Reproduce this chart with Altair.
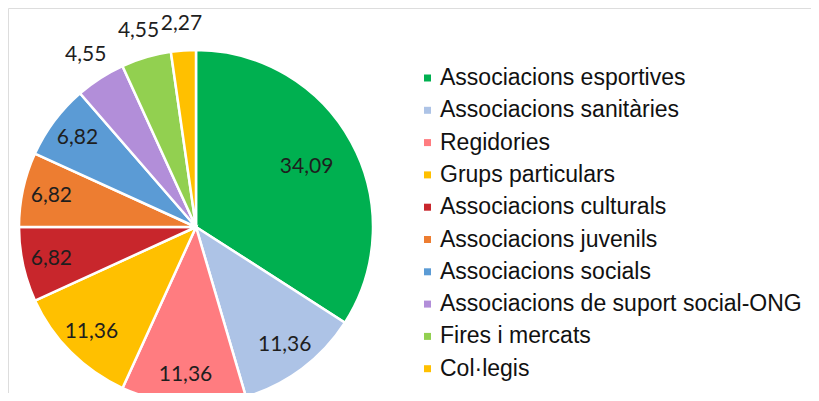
import altair as alt
import pandas as pd
import math

categories = [
    "Associacions esportives",
    "Associacions sanitàries",
    "Regidories",
    "Grups particulars",
    "Associacions culturals",
    "Associacions juvenils",
    "Associacions socials",
    "Associacions de suport social-ONG",
    "Fires i mercats",
    "Col·legis",
]
values = [34.09, 11.36, 11.36, 11.36, 6.82, 6.82, 6.82, 4.55, 4.55, 2.27]
labels = ["34,09", "11,36", "11,36", "11,36", "6,82", "6,82", "6,82", "4,55", "4,55", "2,27"]
colors = ["#00b050", "#adc3e6", "#ff7c80", "#ffc000", "#c8262c",
          "#ed7d31", "#5b9bd5", "#b28ed9", "#92d050", "#ffc000"]

df = pd.DataFrame({"cat": categories, "value": values, "label": labels,
                   "idx": list(range(len(categories)))})

CX, CY, R = 188, 219, 177

pie = alt.Chart(df).mark_arc(outerRadius=R, stroke="white", strokeWidth=2.5).encode(
    theta=alt.Theta("value:Q", stack=True),
    order=alt.Order("idx:Q", sort="ascending"),
    x=alt.value(CX),
    y=alt.value(CY),
    color=alt.Color(
        "cat:N",
        scale=alt.Scale(domain=categories, range=colors),
        sort=categories,
        legend=alt.Legend(
            title=None,
            orient="none",
            legendX=408,
            legendY=58.5,
            padding=0,
            symbolType="square",
            symbolSize=49,
            symbolStrokeWidth=0,
            labelFont="Liberation Sans",
            labelFontSize=23,
            labelColor="#111111",
            labelOffset=1,
            rowPadding=8.3,
            labelLimit=500,
        ),
    ),
)

text = alt.Chart(df).transform_window(
    cum="sum(value)", sort=[alt.SortField("idx", order="ascending")]
).transform_joinaggregate(
    total="sum(value)"
).transform_calculate(
    mid="(datum.cum - datum.value / 2) / datum.total",
    r="datum.value > 30 ? 126 : (datum.value > 5 ? 148 : 204)",
).mark_text(font="Lato", fontSize=21, color="#1e1e1e").encode(
    theta=alt.Theta("mid:Q", scale=alt.Scale(domain=[0, 1], range=[0, 2 * math.pi])),
    x=alt.value(CX),
    y=alt.value(CY),
    radius=alt.Radius("r:Q", scale=None),
    text="label:N",
)

chart = (pie + text).resolve_scale(theta="independent").properties(
    width=803, height=385, padding=0, autosize=alt.AutoSizeParams(type="none")
).configure_view(stroke=None).configure(background="white")

chart.save("out.html", embed_options={"renderer": "svg", "actions": False})
